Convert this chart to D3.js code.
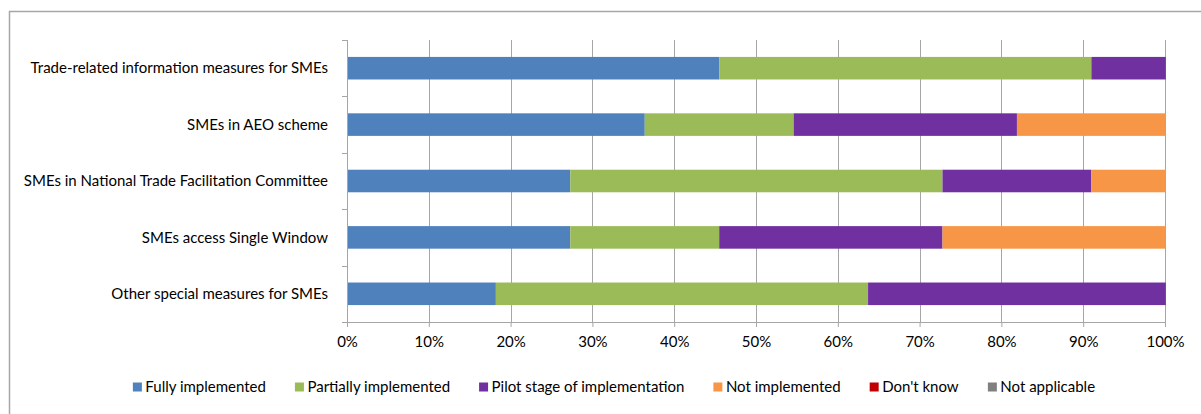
<!DOCTYPE html>
<html>
<head>
<meta charset="utf-8">
<script src="https://cdn.jsdelivr.net/npm/d3@7"></script>
<style>
body { margin: 0; background: #fff; }
text { font-family: Lato, "Open Sans", sans-serif; fill: #000; }
</style>
</head>
<body>
<div id="chart"></div>
<script>
// categories, top to bottom
var categories = [
  "Trade-related information measures for SMEs",
  "SMEs in AEO scheme",
  "SMEs in National Trade Facilitation Committee",
  "SMEs access Single Window",
  "Other special measures for SMEs"
];

var seriesNames = ["Fully implemented", "Partially implemented", "Pilot stage of implementation",
                   "Not implemented", "Don't know", "Not applicable"];
var seriesColors = ["#4f81bd", "#9bbb59", "#7030a0", "#f79646", "#c00000", "#808080"];

// shares in %, one array per series (same order as categories)
var fully     = [45.5, 36.4, 27.3, 27.3, 18.2];
var partially = [45.5, 18.2, 45.5, 18.2, 45.5];
var pilot     = [9.1, 27.3, 18.2, 27.3, 36.4];
var notImpl   = [0, 18.2, 9.1, 27.3, 0];
var dontKnow  = [0, 0, 0, 0, 0];
var notAppl   = [0, 0, 0, 0, 0];

var xTicks = [0, 10, 20, 30, 40, 50, 60, 70, 80, 90, 100];

var W = 1201, H = 414;
var margin = {top: 40, right: 36, bottom: 92, left: 347},
    width = W - margin.left - margin.right,
    height = H - margin.top - margin.bottom;

// build table for stacking
var table = categories.map(function(c, i) {
  return {cat: c, s0: fully[i], s1: partially[i], s2: pilot[i], s3: notImpl[i], s4: dontKnow[i], s5: notAppl[i]};
});
var keys = ["s0", "s1", "s2", "s3", "s4", "s5"];
var stacked = d3.stack().keys(keys)(table);

var x = d3.scaleLinear().domain([0, 100]).range([0, width]);
var y = d3.scaleBand().domain(categories).range([0, height])
  .paddingInner(0.6).paddingOuter(0.3);

var svg = d3.select("#chart").append("svg")
  .attr("width", W)
  .attr("height", H);

// chart frame (only left & top visible in the picture)
svg.append("rect")
  .attr("x", 9.5).attr("y", 11.5)
  .attr("width", W + 10).attr("height", H + 10)
  .attr("fill", "none")
  .attr("stroke", "#a6a6a6")
  .attr("stroke-width", 1.5);

var g = svg.append("g")
  .attr("transform", "translate(" + margin.left + "," + margin.top + ")");

// vertical gridlines
g.selectAll(".grid")
  .data(xTicks)
  .enter().append("line")
  .attr("x1", function(d) { return Math.round(x(d)) + 0.5; })
  .attr("x2", function(d) { return Math.round(x(d)) + 0.5; })
  .attr("y1", 0).attr("y2", height)
  .attr("stroke", "#a6a6a6");

// bars
g.selectAll(".series")
  .data(stacked)
  .enter().append("g")
  .attr("fill", function(d, i) { return seriesColors[i]; })
  .selectAll("rect")
  .data(function(d) { return d; })
  .enter().append("rect")
  .attr("x", function(d) { return x(d[0]); })
  .attr("width", function(d) { return x(d[1]) - x(d[0]); })
  .attr("y", function(d) { return y(d.data.cat); })
  .attr("height", y.bandwidth());

// x axis
var xAxis = g.append("g")
  .attr("transform", "translate(0," + height + ")")
  .call(d3.axisBottom(x).tickValues(xTicks).tickSize(5).tickPadding(9)
    .tickFormat(function(d) { return d + "%"; }));
xAxis.select(".domain").attr("stroke", "#a6a6a6");
xAxis.selectAll(".tick line").attr("stroke", "#a6a6a6");
xAxis.selectAll("text").style("font-size", "15px").attr("fill", "#000");

// y axis line + ticks between categories
g.append("line")
  .attr("x1", 0.5).attr("x2", 0.5).attr("y1", 0).attr("y2", height)
  .attr("stroke", "#a6a6a6");
var step = y.step();
var boundaries = d3.range(categories.length + 1).map(function(i) {
  return i === 0 ? 0 : (i === categories.length ? height : y(categories[i]) - step * 0.3);
});
g.selectAll(".ytick")
  .data(boundaries)
  .enter().append("line")
  .attr("x1", -5).attr("x2", 0)
  .attr("y1", function(d) { return Math.round(d) + 0.5; })
  .attr("y2", function(d) { return Math.round(d) + 0.5; })
  .attr("stroke", "#a6a6a6");

g.selectAll(".ylabel")
  .data(categories)
  .enter().append("text")
  .attr("x", -19)
  .attr("y", function(d) { return y(d) + y.bandwidth() / 2; })
  .attr("dy", "0.35em")
  .attr("text-anchor", "end")
  .style("font-size", "15px")
  .text(function(d) { return d; });

// legend
var legend = svg.append("g");
var items = legend.selectAll(".item")
  .data(seriesNames)
  .enter().append("g");
items.append("rect")
  .attr("width", 9).attr("height", 9)
  .attr("y", -4.5)
  .attr("fill", function(d, i) { return seriesColors[i]; });
items.append("text")
  .attr("x", 12.5)
  .attr("dy", "0.35em")
  .style("font-size", "15px")
  .text(function(d) { return d; });

var cursor = 0, gap = 29;
items.each(function() {
  var w = this.getBBox().width;
  d3.select(this).attr("transform", "translate(" + cursor + ",0)");
  cursor += w + gap;
});
var total = cursor - gap;
legend.attr("transform", "translate(" + (614 - total / 2) + ",387)");
</script>
</body>
</html>
